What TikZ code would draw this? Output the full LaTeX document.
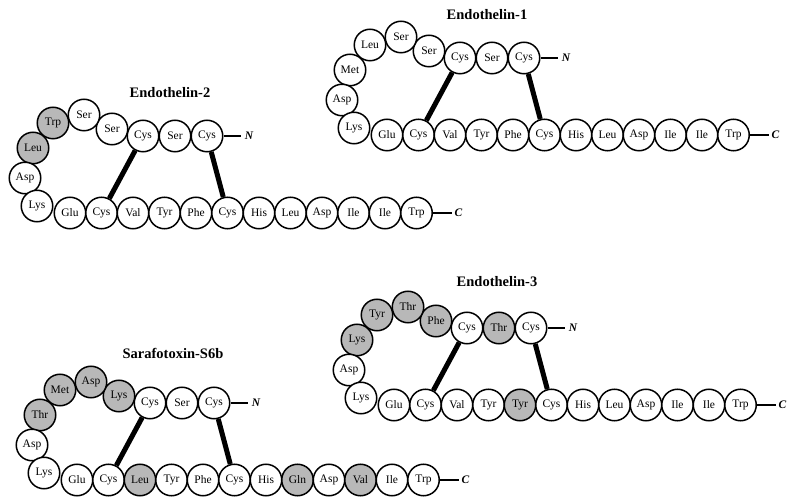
\documentclass[tikz,border=0pt]{standalone}
\usepackage{fontspec}
\setmainfont{Liberation Serif}
\usetikzlibrary{calc}
\definecolor{hl}{gray}{0.72}
\tikzset{
  res/.style={circle,draw=black,line width=1.5pt,minimum size=31.5pt,inner sep=0pt,font=\fontsize{11.5}{12}\selectfont},
  ssbond/.style={line width=5pt},
  termline/.style={line width=2.8pt},
  termlab/.style={font=\fontsize{11.5}{12}\selectfont\bfseries\itshape,inner sep=0pt},
  ttl/.style={font=\fontsize{14.5}{15}\selectfont\bfseries,inner sep=0pt}
}
\newcommand\pepframe[3]{%
  \begin{scope}[shift={(#2,#3)}]
    \coordinate (#1-p1) at (64,0);
    \coordinate (#1-p2) at (32,0);
    \coordinate (#1-p3) at (0,0);
    \coordinate (#1-p4) at (-31,-7);
    \coordinate (#1-p5) at (-59,-21);
    \coordinate (#1-p6) at (-90,-13);
    \coordinate (#1-p7) at (-110,12);
    \coordinate (#1-p8) at (-118,42);
    \coordinate (#1-p9) at (-106,70);
    \foreach \k in {10,...,21} {\coordinate (#1-p\k) at ({-73+(\k-10)*31.5},77);}
  \end{scope}}
\newcommand\pepnodes[2]{%
  \foreach \lab/\col [count=\i] in {#2} {\node[res,fill=\col] (#1-\i) at (#1-p\i) {\lab};}
  \draw[ssbond] (#1-3) -- (#1-11);
  \draw[ssbond] (#1-1) -- (#1-15);
  \coordinate (#1-ne) at ($(#1-1)+(34,0)$);
  \node[termlab] (#1-N) at ($(#1-1)+(42,0)$) {N};
  \draw[termline] (#1-1) -- (#1-ne);
  \coordinate (#1-ce) at ($(#1-21)+(35,0)$);
  \node[termlab] (#1-C) at ($(#1-21)+(42,0)$) {C};
  \draw[termline] (#1-21) -- (#1-ce);
}
\begin{document}
\begin{tikzpicture}[x=1pt,y=-1pt]
\useasboundingbox (0,0) rectangle (788,497);
% Endothelin-1
\node[ttl] (t1) at (487,15) {Endothelin-1};
\pepframe{a}{460}{58}
\pepnodes{a}{Cys/white,Ser/white,Cys/white,Ser/white,Ser/white,Leu/white,Met/white,Asp/white,Lys/white,Glu/white,Cys/white,Val/white,Tyr/white,Phe/white,Cys/white,His/white,Leu/white,Asp/white,Ile/white,Ile/white,Trp/white}
% Endothelin-2
\node[ttl] (t2) at (170,93) {Endothelin-2};
\pepframe{b}{143}{136}
\pepnodes{b}{Cys/white,Ser/white,Cys/white,Ser/white,Ser/white,Trp/hl,Leu/hl,Asp/white,Lys/white,Glu/white,Cys/white,Val/white,Tyr/white,Phe/white,Cys/white,His/white,Leu/white,Asp/white,Ile/white,Ile/white,Trp/white}
% Endothelin-3
\node[ttl] (t3) at (497,282) {Endothelin-3};
\pepframe{c}{467}{328}
\pepnodes{c}{Cys/white,Thr/hl,Cys/white,Phe/hl,Thr/hl,Tyr/hl,Lys/hl,Asp/white,Lys/white,Glu/white,Cys/white,Val/white,Tyr/white,Tyr/hl,Cys/white,His/white,Leu/white,Asp/white,Ile/white,Ile/white,Trp/white}
% Sarafotoxin-S6b
\node[ttl] (t4) at (173,353) {Sarafotoxin-S6b};
\pepframe{d}{150}{403}
\pepnodes{d}{Cys/white,Ser/white,Cys/white,Lys/hl,Asp/hl,Met/hl,Thr/hl,Asp/white,Lys/white,Glu/white,Cys/white,Leu/hl,Tyr/white,Phe/white,Cys/white,His/white,Gln/hl,Asp/white,Val/hl,Ile/white,Trp/white}
\end{tikzpicture}
\end{document}
